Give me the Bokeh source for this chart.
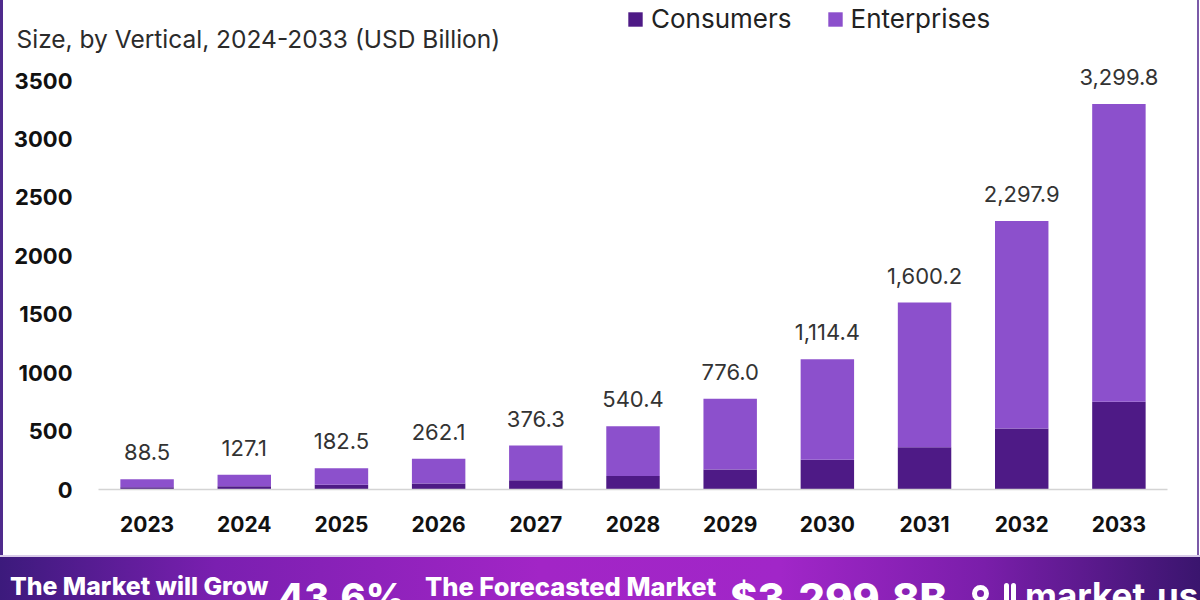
from bokeh.plotting import figure
from bokeh.models import (ColumnDataSource, FactorRange, Range1d, Legend, LegendItem,
                          LabelSet, Label, Div, FixedTicker)
from bokeh.core.properties import value
from bokeh.layouts import column, row
from bokeh.embed import file_html
from bokeh.resources import INLINE

# ---------------- data ----------------
years = ["2023", "2024", "2025", "2026", "2027", "2028", "2029", "2030", "2031", "2032", "2033"]
totals = [88.5, 127.1, 182.5, 262.1, 376.3, 540.4, 776.0, 1114.4, 1600.2, 2297.9, 3299.8]
consumers = [20, 28, 40, 52, 80, 115, 172, 255, 362, 522, 750]
enterprises = [round(t - c, 1) for t, c in zip(totals, consumers)]
total_labels = [f"{t:,.1f}" for t in totals]
y_ticks = [0, 500, 1000, 1500, 2000, 2500, 3000, 3500]
series = ["Consumers", "Enterprises"]
colors = ["#4e1a86", "#8c50cc"]
subtitle = "Size, by Vertical, 2024-2033 (USD Billion)"

FONT = "Inter"

src = ColumnDataSource(dict(year=years, Consumers=consumers, Enterprises=enterprises,
                            total=totals, lab=total_labels))

x_range = FactorRange(*years, range_padding=0)

# ---------------- header strip: legend (frame) + subtitle (below panel) ----------------
head = figure(width=1194, height=64, x_range=x_range, y_range=Range1d(-2, -1),
              x_axis_location=None, y_axis_location=None,
              output_backend="svg", toolbar_location=None,
              min_border_left=95, min_border_right=30, min_border_top=0, min_border_bottom=0)
head.grid.grid_line_color = None
head.outline_line_color = None
head.border_fill_color = "white"
head.background_fill_color = "white"

# same series with zero bar width (nothing drawn): they only key the legend
key_rs = head.vbar_stack(series, x="year", width=0, color=colors, line_color=None, source=src)

legend = Legend(items=[LegendItem(label=s, renderers=[r]) for s, r in zip(series, key_rs)],
                orientation="horizontal", location=(528, 0),
                glyph_width=18, glyph_height=18, label_standoff=7, spacing=34,
                label_text_font=FONT, label_text_font_size="26px", label_text_color="#222222",
                border_line_color=None, background_fill_alpha=0, padding=0, margin=0)
head.add_layout(legend)

head.add_layout(Label(x=-82, y=26, x_units="screen", y_units="screen", text=subtitle,
                      text_font=FONT, text_font_size="24.5px", text_color="#2b2b2b",
                      text_baseline="alphabetic"), "below")

# ---------------- main chart ----------------
p = figure(width=1194, height=491, x_range=x_range,
           y_range=Range1d(0, 3637), output_backend="svg", toolbar_location=None,
           min_border_left=95, min_border_right=30, min_border_top=0, min_border_bottom=66)
p.outline_line_color = None
p.background_fill_color = "white"
p.border_fill_color = "white"
p.xgrid.grid_line_color = None
p.ygrid.grid_line_color = None

p.vbar_stack(series, x="year", width=0.55, color=colors, line_color=None, source=src)

p.yaxis.ticker = FixedTicker(ticks=y_ticks)
p.yaxis.axis_line_color = None
p.yaxis.major_tick_line_color = None
p.yaxis.minor_tick_line_color = None
p.yaxis.major_label_standoff = 20
p.yaxis.major_label_text_font = FONT
p.yaxis.major_label_text_font_style = "bold"
p.yaxis.major_label_text_font_size = "22px"
p.yaxis.major_label_text_color = "#111111"

p.xaxis.axis_line_color = "#d4d4d4"
p.xaxis.axis_line_width = 1.5
p.xaxis.major_tick_line_color = None
p.xaxis.minor_tick_line_color = None
p.xaxis.major_label_standoff = 20
p.xaxis.major_label_text_font = FONT
p.xaxis.major_label_text_font_style = "bold"
p.xaxis.major_label_text_font_size = "21px"
p.xaxis.major_label_text_color = "#111111"

labels = LabelSet(x="year", y="total", text="lab", source=src, y_offset=19,
                  text_align="center", text_baseline="alphabetic",
                  text_font=value(FONT), text_font_size="22px", text_color="#333333")
p.add_layout(labels)

# ---------------- frame decorations ----------------
left_bar = Div(width=3, height=555, margin=0, styles={"background-color": "#4f2a8c"})
right_bar = Div(width=3, height=555, margin=0,
                styles={"background": "linear-gradient(90deg, #7b5aa8 0 2px, #ffffff 2px)"})

banner_html = f"""
<div style="position:relative;width:1200px;height:45px;overflow:hidden;
 background:linear-gradient(90deg,#3c1a7c 0%,#7a1fb0 18%,#a225c6 45%,#a126c8 65%,#7a1eaa 82%,#3a156e 100%);
 font-family:{FONT};color:#ffffff;border-top:2px solid #d9cbe9;box-sizing:border-box;">
 <span style="position:absolute;left:10px;top:17px;font-size:24.8px;line-height:25px;font-weight:800;white-space:nowrap;">The Market will Grow</span>
 <span style="position:absolute;left:278px;top:21px;font-size:38px;line-height:38px;font-weight:800;white-space:nowrap;">43.6%</span>
 <span style="position:absolute;left:425px;top:17px;font-size:25.5px;line-height:25.5px;font-weight:800;white-space:nowrap;">The Forecasted Market</span>
 <span style="position:absolute;left:730px;top:21px;font-size:41.5px;line-height:41.5px;font-weight:800;white-space:nowrap;">$3,299.8B</span>
 <span style="position:absolute;left:972px;top:28px;width:17px;height:17px;border:5px solid #ffffff;border-radius:50%;"></span>
 <span style="position:absolute;left:1004px;top:26px;width:5px;height:30px;background:#ffffff;border-radius:3px;"></span>
 <span style="position:absolute;left:1011px;top:26px;width:5px;height:30px;background:#ffffff;border-radius:3px;"></span>
 <span style="position:absolute;left:1025px;top:21px;font-size:35px;line-height:35px;font-weight:700;white-space:nowrap;">market.us</span>
</div>
"""
banner = Div(text=banner_html, width=1200, height=45, margin=0, disable_math=True)

layout = column(row(left_bar, column(head, p, spacing=0), right_bar, spacing=0), banner, spacing=0)

open("out.html", "w").write(file_html(layout, INLINE))
